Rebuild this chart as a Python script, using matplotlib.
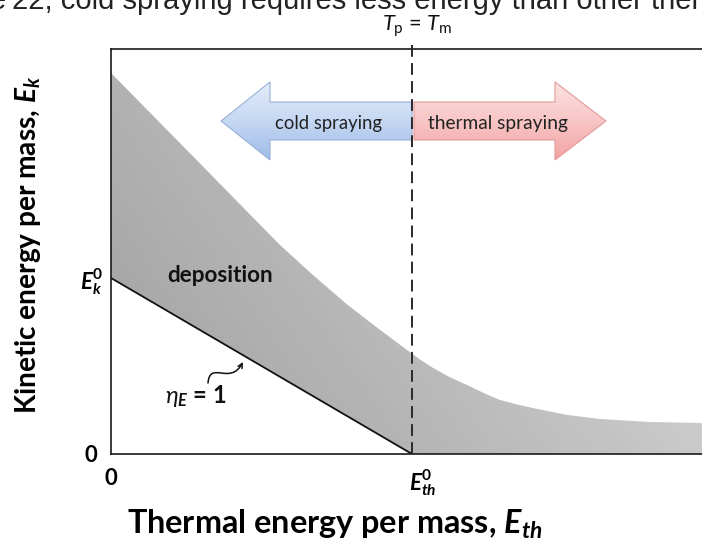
import numpy as np
import matplotlib
matplotlib.use('Agg')
import matplotlib.pyplot as plt
from matplotlib.patches import Polygon, FancyArrowPatch
from matplotlib.path import Path
from matplotlib.colors import LinearSegmentedColormap
from matplotlib.transforms import ScaledTranslation

plt.rcParams['font.family'] = ['Lato', 'DejaVu Sans']
plt.rcParams['mathtext.fontset'] = 'custom'
plt.rcParams['mathtext.rm'] = 'Lato'
plt.rcParams['mathtext.it'] = 'Lato:italic'
plt.rcParams['mathtext.bf'] = 'Lato:bold'
plt.rcParams['mathtext.bfit'] = 'Lato:italic:bold'
plt.rcParams['lines.scale_dashes'] = False

# ---------------- data ----------------
# upper boundary of the deposition window (kinetic energy vs thermal energy)
upper_x = [0.0, 0.30, 0.561, 0.671, 0.784, 0.894, 1.0, 1.035, 1.07, 1.125, 1.183, 1.24, 1.292, 1.35, 1.402, 1.515, 1.625, 1.79, 1.965]
upper_y = [2.165, 1.643, 1.188, 1.017, 0.85, 0.705, 0.57, 0.527, 0.489, 0.437, 0.392, 0.345, 0.307, 0.281, 0.261, 0.222, 0.199, 0.182, 0.176]
# eta_E = 1 line (lower boundary)
eta_x = [0.0, 1.0]
eta_y = [1.0, 0.0]
x_ticks = [0.0, 1.0]
x_ticklabels = ['0', r'$\mathbfit{E}_{\mathbfit{th}}^{\mathbf{0}}$']
y_ticks = [0.0, 1.0]
y_ticklabels = ['0', r'$\mathbfit{E}_{\mathbfit{k}}^{\mathbf{0}}$']
x_max = 1.9635
y_max = 2.301
melt_x = 1.0

# ---------------- figure ----------------
W, H, DPI = 702, 540, 100
fig = plt.figure(figsize=(W / DPI, H / DPI), dpi=DPI)
ax_left, ax_top, ax_bottom = 111, 49, 454
ax = fig.add_axes([ax_left / W, 1 - ax_bottom / H, 1 - ax_left / W, (ax_bottom - ax_top) / H])
ax.set_xlim(0, x_max)
ax.set_ylim(0, y_max)
for s in ['left', 'bottom', 'top']:
    ax.spines[s].set_linewidth(1.2)
    ax.spines[s].set_color('#1a1a1a')
ax.spines['right'].set_visible(False)

def px2d(px, py):
    return ((px - ax_left) / 301.0, (ax_bottom - py) / 176.0)

# gray deposition region with gradient
verts = list(zip(upper_x, upper_y)) + [(upper_x[-1], 0.0), (eta_x[1], eta_y[1]), (eta_x[0], eta_y[0])]
region = Polygon(verts, closed=True, facecolor='none', edgecolor='none')
ax.add_patch(region)
gx = np.linspace(0, x_max, 300)
gy = np.linspace(0, y_max, 200)
GX, GY = np.meshgrid(gx, gy)
G = 0.65 + 0.085 * GX + 0.035 * (GY - 0.8)
im = ax.imshow(G, extent=(0, x_max, 0, y_max), origin='lower', cmap='gray', vmin=0, vmax=1,
               aspect='auto', zorder=1, interpolation='bilinear')
im.set_clip_path(region)

# eta_E = 1 line
ax.plot(eta_x, eta_y, color='#111111', lw=1.3, zorder=3)

# arrows (cold / thermal spraying)
def arrow_poly(x_body, x_headbase, x_tip, yc, bh, hh):
    return [(x_body, yc + bh), (x_headbase, yc + bh), (x_headbase, yc + hh), (x_tip, yc),
            (x_headbase, yc - hh), (x_headbase, yc - bh), (x_body, yc - bh)]

yc = (ax_bottom - 121) / 176.0
bh, hh = 19 / 176.0, 39 / 176.0
blue_cmap = LinearSegmentedColormap.from_list('b', ['#9dbbe8', '#c6d8f3', '#e4edfa'])
red_cmap = LinearSegmentedColormap.from_list('r', ['#f3a2a2', '#f8c6c6', '#fce2e2'])
for (xb, xhb, xt, cmap, ec) in [(px2d(412, 0)[0], px2d(270, 0)[0], px2d(221, 0)[0], blue_cmap, '#98b2d6'),
                                (px2d(414, 0)[0], px2d(555, 0)[0], px2d(606, 0)[0], red_cmap, '#e29a9a')]:
    p = Polygon(arrow_poly(xb, xhb, xt, yc, bh, hh), closed=True, facecolor='none', edgecolor=ec,
                lw=0.8, zorder=5)
    ax.add_patch(p)
    grad = np.linspace(0, 1, 100).reshape(-1, 1)
    ai = ax.imshow(grad, extent=(min(xt, xb), max(xt, xb), yc - hh, yc + hh), origin='lower',
                   cmap=cmap, aspect='auto', zorder=4, interpolation='bilinear')
    ai.set_clip_path(p)
ax.set_xlim(0, x_max)
ax.set_ylim(0, y_max)

# dashed melting line
ax.plot([melt_x, melt_x], [0, (ax_bottom - 39) / 176.0], color='#2a2a2a', lw=1.4,
        dashes=(8.5, 4.5), zorder=6, clip_on=False)

# ticks
ax.set_xticks(x_ticks)
ax.set_yticks(y_ticks)
ax.set_xticklabels(x_ticklabels, fontdict={'fontsize': 16, 'fontweight': 'bold'})
ax.set_yticklabels(y_ticklabels, fontdict={'fontsize': 16, 'fontweight': 'bold'})
ax.tick_params(axis='x', length=0, pad=10)
ax.tick_params(axis='y', length=0, pad=10)

fig.canvas.draw()
r = fig.canvas.get_renderer()

def fit(t, target, use_height=False):
    bb = t.get_window_extent(r)
    cur = bb.height if use_height else bb.width
    t.set_fontsize(t.get_fontsize() * target / cur)

# axis labels
ax.set_xlabel(r'Thermal energy per mass, $\mathbfit{E}_{\mathbfit{th}}$', fontweight='bold', fontsize=15)
ax.set_ylabel(r'Kinetic energy per mass, $\mathbfit{E}_{\mathbfit{k}}$', fontweight='bold', fontsize=15)
ax.xaxis.set_label_coords((335 - ax_left) / 591, (ax_bottom - 524) / 405)
ax.yaxis.set_label_coords((28 - ax_left) / 591, (ax_bottom - 245) / 405)
ax.xaxis.label.set_va('center')
ax.yaxis.label.set_va('center')
fit(ax.xaxis.label, 418)
fit(ax.yaxis.label, 340, use_height=True)

# in-plot texts
t_dep = ax.text(*px2d(220, 276), 'deposition', fontsize=14, fontweight='bold', ha='center',
                va='center', color='#111111', zorder=7)
fit(t_dep, 106)
t_cold = ax.text(*px2d(329, 124), 'cold spraying', fontsize=12, ha='center', va='center',
                 color='#222222', zorder=7)
fit(t_cold, 107)
t_hot = ax.text(*px2d(498, 124), 'thermal spraying', fontsize=12, ha='center', va='center',
                color='#222222', zorder=7)
fit(t_hot, 139)
t_eta = ax.text(*px2d(196, 396), r'$\eta_{\mathbfit{E}}$' + ' = 1', fontsize=17, fontweight='bold',
                ha='center', va='center', color='#111111', zorder=7)

# curly pointer to eta line
P0 = px2d(208, 383); C1 = px2d(210, 360); C2 = px2d(230, 386); P3 = px2d(243, 362)
path = Path([P0, C1, C2, P3], [Path.MOVETO, Path.CURVE4, Path.CURVE4, Path.CURVE4])
ax.add_patch(FancyArrowPatch(path=path, arrowstyle='->', mutation_scale=8, lw=1.1,
                             color='#111111', zorder=7))

# T_p = T_m above the dashed line
t_tp = fig.text(417 / W, 1 - 31 / H, r'$T_{\mathrm{p}}$ = $T_{\mathrm{m}}$', fontsize=14, ha='center',
                va='baseline', color='#111111')
fit(t_tp, 71)

# cropped caption above the figure
cap = fig.text(12 / W, 1 - 9 / H, '22, cold spraying', fontsize=20, ha='left', va='baseline',
               family='Liberation Sans', color='#222222')
fit(cap, 220)
cap.set_text('22, cold spraying requires less energy than other thermal')
fig.text(6 / W, 1 - 9 / H, 'e', fontsize=cap.get_fontsize(), ha='right', va='baseline',
         family='Liberation Sans', color='#222222')

# shift tick labels slightly as in reference
fig.canvas.draw()
xl = ax.xaxis.get_major_ticks()[1].label1
xl.set_transform(xl.get_transform() + ScaledTranslation(11 / DPI, 0, fig.dpi_scale_trans))
yl = ax.yaxis.get_major_ticks()[1].label1
yl.set_transform(yl.get_transform() + ScaledTranslation(6 / DPI, 0, fig.dpi_scale_trans))

fig.savefig('out.png', dpi=DPI)
